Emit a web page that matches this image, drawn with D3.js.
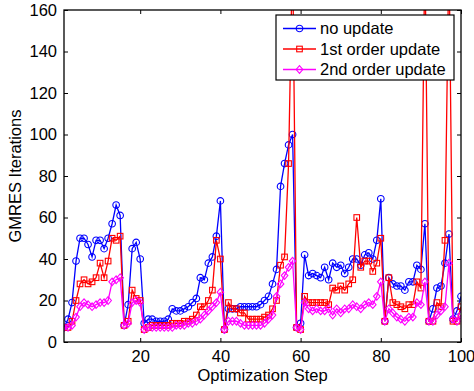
<!DOCTYPE html>
<html>
<head>
<meta charset="utf-8">
<script src="https://cdnjs.cloudflare.com/ajax/libs/d3/7.8.5/d3.min.js"></script>
<style>
  body { margin: 0; background: #fff; }
  text { font-family: "Liberation Sans", Arial, sans-serif; }
</style>
</head>
<body>
<script>
// GMRES iterations per optimization step
const steps = d3.range(1, 101);

const noUpdate = [7, 11, 19, 39, 50, 50, 47, 41, 49, 49,
  45, 50, 57, 66, 61, 8, 18, 45, 48, 40,
  9, 11, 11, 10, 10, 10, 11, 16, 15, 15,
  16, 17, 19, 21, 31, 30, 38, 41, 51, 68,
  6, 16, 16, 16, 17, 17, 17, 17, 17, 18,
  20, 22, 28, 35, 75, 86, 95, 100, 7, 9,
  42, 32, 33, 32, 31, 36, 30, 38, 36, 37,
  33, 36, 40, 40, 37, 42, 43, 40, 49, 69,
  10, 31, 28, 27, 27, 25, 29, 29, 37, 35,
  57, 10, 16, 26, 27, 38, 52, 11, 15, 22];

const firstOrder = [7, 7, 10, 20, 28, 30, 28, 29, 31, 38,
  31, 39, 50, 49, 51, 8, 10, 25, 21, 20,
  6, 7, 8, 8, 8, 8, 8, 9, 9, 9,
  10, 10, 11, 13, 17, 17, 20, 25, 49, 40,
  6, 19, 16, 16, 14, 14, 11, 11, 11, 11,
  12, 13, 16, 20, 37, 41, 86, 190, 7, 6,
  22, 19, 19, 19, 19, 19, 18, 26, 25, 27,
  25, 28, 30, 60, 36, 39, 39, 34, 38, 50,
  10, 31, 19, 18, 17, 16, 18, 18, 29, 26,
  190, 10, 10, 19, 17, 49, 190, 10, 10, 17];

const secondOrder = [7, 7, 8, 12, 17, 19, 18, 17, 18, 19,
  19, 20, 29, 30, 31, 8, 9, 19, 20, 19,
  6, 7, 7, 7, 7, 7, 7, 7, 8, 8,
  8, 9, 9, 10, 11, 13, 15, 17, 19, 24,
  6, 10, 10, 10, 9, 8, 8, 8, 8, 8,
  9, 11, 13, 22, 28, 32, 36, 39, 7, 6,
  19, 16, 15, 16, 15, 15, 16, 13, 16, 14,
  16, 16, 18, 17, 16, 18, 19, 18, 22, 29,
  10, 16, 14, 12, 11, 10, 12, 12, 19, 18,
  29, 10, 10, 13, 15, 17, 38, 11, 10, 13];

const seriesNames = ["no update", "1st order update", "2nd order update"];
const seriesColors = ["#0000ff", "#ff0000", "#ff00ff"];
const seriesMarkers = ["circle", "square", "diamond"];
const xTicks = [20, 40, 60, 80, 100];
const yTicks = [0, 20, 40, 60, 80, 100, 120, 140, 160];

const width = 474, height = 391;
const margin = { top: 10, right: 13, bottom: 49, left: 64 };
const fontSize = 16.5;

const svg = d3.select("body").append("svg")
  .attr("width", width)
  .attr("height", height);

const x = d3.scaleLinear().domain([1, 100]).range([margin.left, width - margin.right]);
const y = d3.scaleLinear().domain([0, 160]).range([height - margin.bottom, margin.top]);

svg.append("defs").append("clipPath").attr("id", "plot")
  .append("rect")
  .attr("x", margin.left).attr("y", margin.top)
  .attr("width", width - margin.left - margin.right)
  .attr("height", height - margin.top - margin.bottom);

// axes, matlab style: ticks pointing inward, on all four sides
const tickLen = 4;
svg.append("g")
  .attr("transform", `translate(0,${height - margin.bottom})`)
  .call(d3.axisBottom(x).tickValues(xTicks).tickSizeInner(-tickLen).tickSizeOuter(0).tickPadding(8))
  .call(g => g.select(".domain").remove());
svg.append("g")
  .attr("transform", `translate(0,${margin.top})`)
  .call(d3.axisTop(x).tickValues(xTicks).tickSizeInner(-tickLen).tickSizeOuter(0).tickFormat(""))
  .call(g => g.select(".domain").remove());
svg.append("g")
  .attr("transform", `translate(${margin.left},0)`)
  .call(d3.axisLeft(y).tickValues(yTicks).tickSizeInner(-tickLen).tickSizeOuter(0).tickPadding(7))
  .call(g => g.select(".domain").remove());
svg.append("g")
  .attr("transform", `translate(${width - margin.right},0)`)
  .call(d3.axisRight(y).tickValues(yTicks).tickSizeInner(-tickLen).tickSizeOuter(0).tickFormat(""))
  .call(g => g.select(".domain").remove());

svg.selectAll(".tick line").attr("stroke", "#000").attr("stroke-width", 1);
svg.selectAll(".tick text").attr("font-size", fontSize).attr("fill", "#000")
  .style("font-family", "'Liberation Sans', Arial, sans-serif");

// data
const allSeries = [noUpdate, firstOrder, secondOrder];
const line = d3.line().x((d, i) => x(steps[i])).y(d => y(d));

function marker(g, type, color) {
  if (type === "circle") {
    g.append("circle").attr("r", 3.3);
  } else if (type === "square") {
    g.append("rect").attr("x", -2.8).attr("y", -2.8).attr("width", 5.6).attr("height", 5.6);
  } else {
    g.append("path").attr("d", "M0,-3.8L3.3,0L0,3.8L-3.3,0Z");
  }
  g.selectAll("*").attr("fill", "none").attr("stroke", color).attr("stroke-width", 1.1);
}

const plot = svg.append("g").attr("clip-path", "url(#plot)");
allSeries.forEach((vals, k) => {
  const g = plot.append("g");
  g.append("path")
    .datum(vals)
    .attr("d", line)
    .attr("fill", "none")
    .attr("stroke", seriesColors[k])
    .attr("stroke-width", 1.3);
  g.selectAll("g.m")
    .data(vals)
    .join("g")
    .attr("class", "m")
    .attr("transform", (d, i) => `translate(${x(steps[i])},${y(d)})`)
    .each(function() { marker(d3.select(this), seriesMarkers[k], seriesColors[k]); });
});

// box
svg.append("rect")
  .attr("x", margin.left).attr("y", margin.top)
  .attr("width", width - margin.left - margin.right)
  .attr("height", height - margin.top - margin.bottom)
  .attr("fill", "none").attr("stroke", "#000").attr("stroke-width", 1.3);

// axis titles
svg.append("text")
  .attr("x", (margin.left + width - margin.right) / 2)
  .attr("y", 381)
  .attr("text-anchor", "middle")
  .attr("font-size", fontSize)
  .text("Optimization Step");

svg.append("text")
  .attr("transform", `translate(21,${(margin.top + height - margin.bottom) / 2}) rotate(-90)`)
  .attr("text-anchor", "middle")
  .attr("font-size", fontSize)
  .text("GMRES Iterations");

// legend
const legend = svg.append("g").attr("transform", "translate(276,15)");
legend.append("rect")
  .attr("width", 178).attr("height", 65)
  .attr("fill", "#fff").attr("stroke", "#000").attr("stroke-width", 1.2);
seriesNames.forEach((name, k) => {
  const row = legend.append("g").attr("transform", `translate(0,${13.5 + k * 20.5})`);
  row.append("line").attr("x1", 7).attr("x2", 40)
    .attr("stroke", seriesColors[k]).attr("stroke-width", 1.3);
  const m = row.append("g").attr("transform", "translate(23.5,0)");
  marker(m, seriesMarkers[k], seriesColors[k]);
  row.append("text").attr("x", 44).attr("y", 5.5)
    .attr("font-size", fontSize).text(name);
});
</script>
</body>
</html>
